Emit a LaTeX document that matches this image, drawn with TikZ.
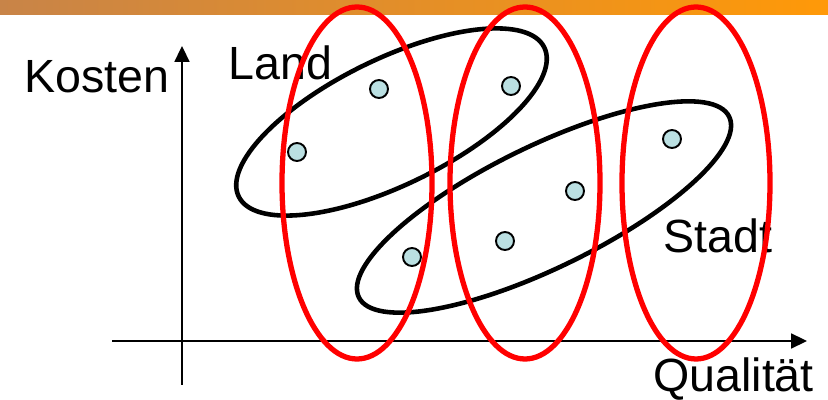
\documentclass[tikz,border=0pt]{standalone}
\usepackage{fontspec}
\setmainfont{Liberation Sans}
\usetikzlibrary{shapes.geometric, arrows.meta}
\definecolor{dotblue}{RGB}{187,224,226}
\definecolor{barleft}{RGB}{200,132,72}
\definecolor{barright}{RGB}{255,153,8}
\begin{document}
\begin{tikzpicture}[
  every node/.style={font=\fontsize{26.5}{30}\selectfont},
  lbl/.style={anchor=base west, inner sep=0pt},
  axis/.style={line width=1pt, -{Triangle[length=9pt, width=8.5pt]}},
  group/.style={draw, ellipse, line width=2.6pt, inner sep=0pt, rotate=26},
  cluster/.style={draw=red, ellipse, line width=3pt, inner sep=0pt, minimum width=3cm, minimum height=7.04cm},
  dot/.style={draw, circle, fill=dotblue, line width=1.1pt, inner sep=0pt, minimum size=0.36cm}]
  \useasboundingbox (0,0) rectangle (16.56,8);
  \shade[left color=barleft, right color=barright] (0,7.7) rectangle (16.56,8);
  % axes
  \coordinate (ybot) at (3.64,0.3);
  \coordinate (ytop) at (3.64,7.08);
  \coordinate (xleft) at (2.24,1.18);
  \coordinate (xright) at (16.14,1.18);
  \draw[axis] (ybot) -- (ytop);
  \draw[axis] (xleft) -- (xright);
  \node[lbl] (kosten) at (0.48,6.14) {Kosten};
  \node[lbl] (qual) at (13.06,0.16) {Qualität};
  % Land und Stadt
  \node[group, minimum width=6.8cm, minimum height=2.52cm] (land) at (7.83,5.56) {};
  \node[group, minimum width=8.24cm, minimum height=2.44cm] (stadt) at (10.88,3.86) {};
  \node[lbl] (landlbl) at (4.56,6.4) {Land};
  \node[lbl] (stadtlbl) at (13.26,2.94) {Stadt};
  % Punkte
  \node[dot] (p1) at (5.94,4.96) {};
  \node[dot] (p2) at (7.58,6.22) {};
  \node[dot] (p3) at (10.22,6.28) {};
  \node[dot] (p4) at (13.44,5.22) {};
  \node[dot] (p5) at (11.5,4.18) {};
  \node[dot] (p6) at (10.1,3.18) {};
  \node[dot] (p7) at (8.24,2.86) {};
  % Qualitaetsklassen
  \node[cluster] (q1) at (7.14,4.34) {};
  \node[cluster] (q2) at (10.5,4.34) {};
  \node[cluster, minimum width=2.96cm] (q3) at (13.92,4.34) {};
\end{tikzpicture}
\end{document}
